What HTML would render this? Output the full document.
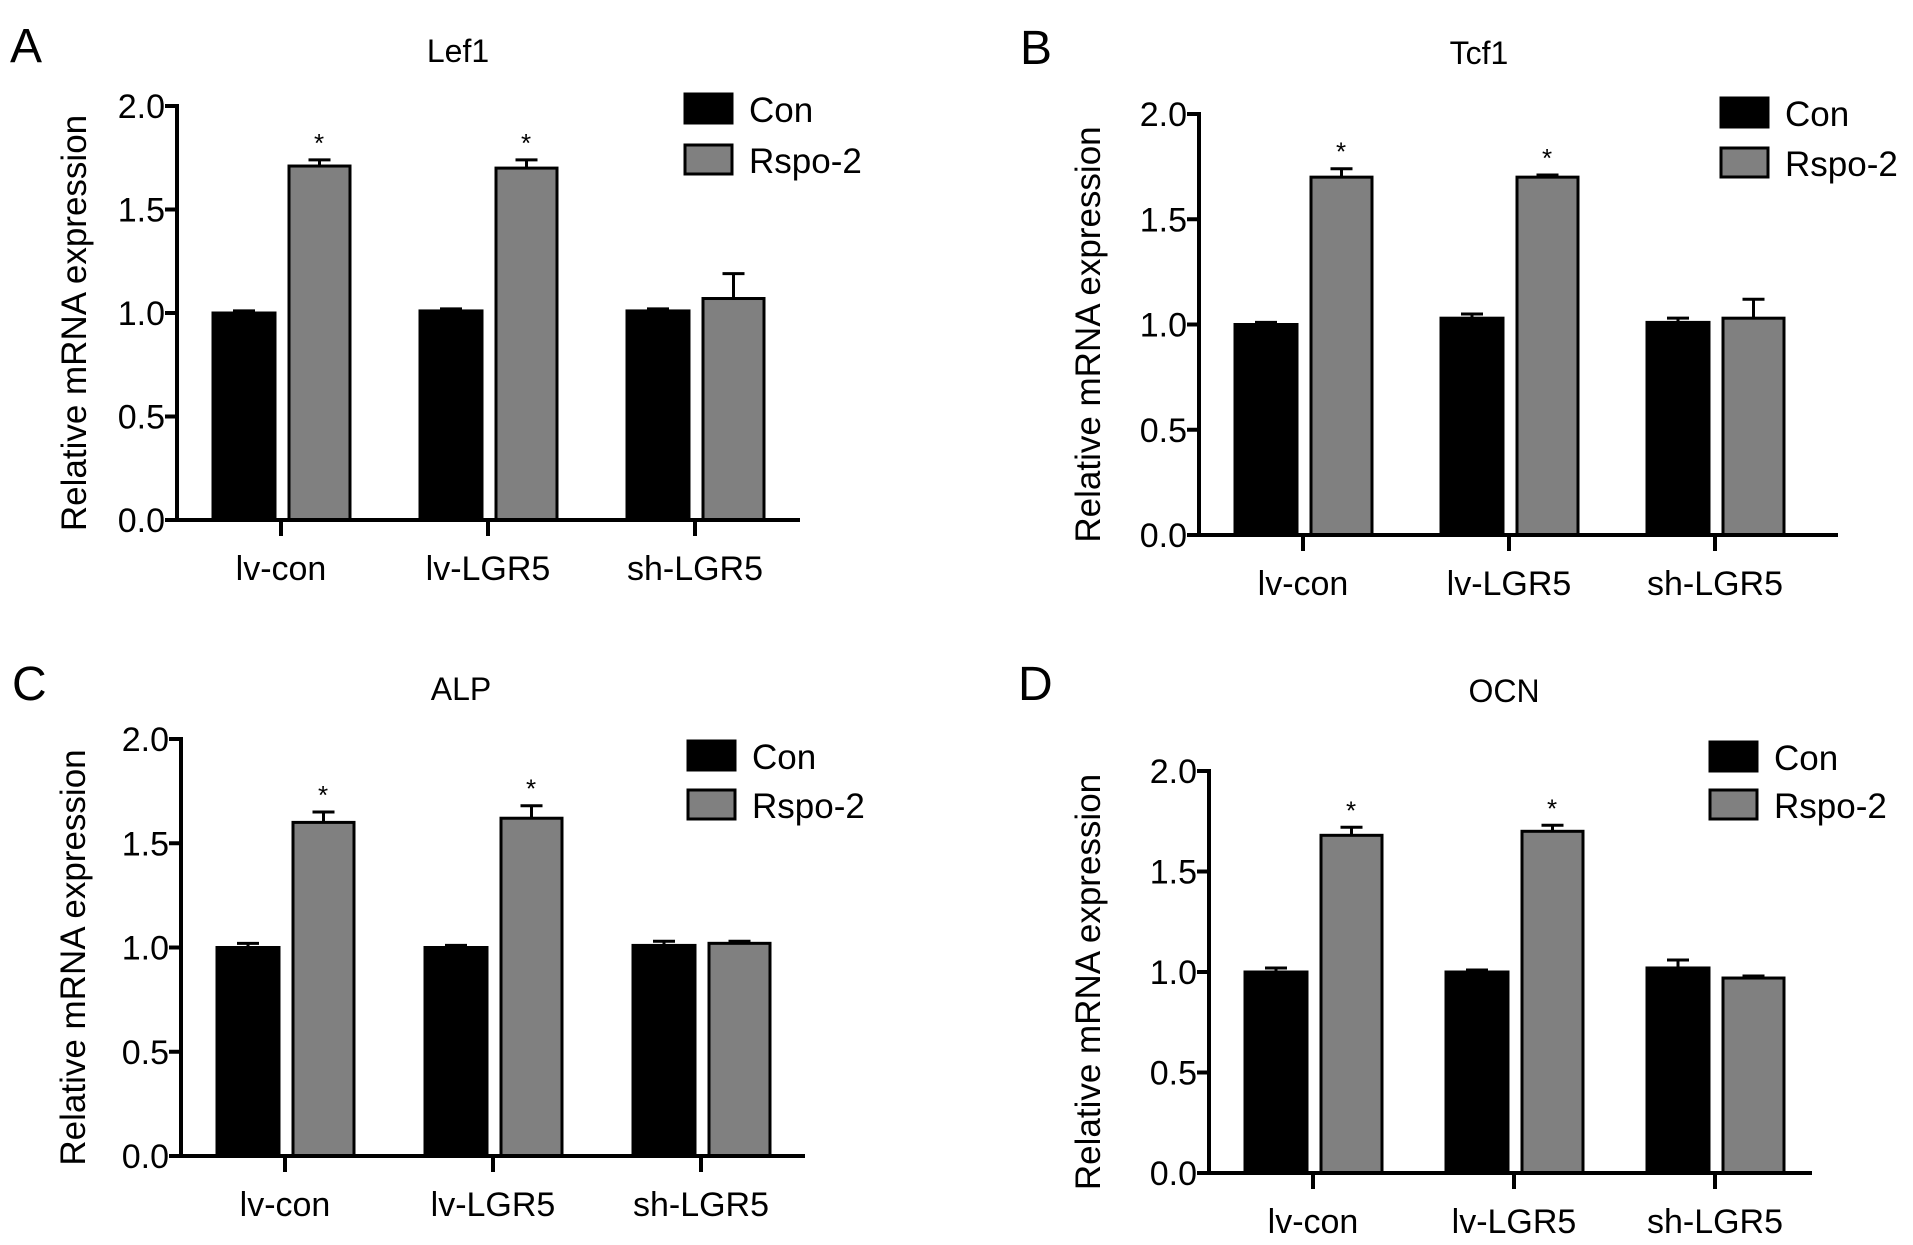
<!DOCTYPE html>
<html><head><meta charset="utf-8"><style>
html,body{margin:0;padding:0;background:#fff;}
svg{display:block;font-family:"Liberation Sans",Arial,sans-serif;}
</style></head><body>
<svg id="fig" width="1913" height="1245" viewBox="0 0 1913 1245" xmlns="http://www.w3.org/2000/svg"></svg>
<script>
const categories = ["lv-con","lv-LGR5","sh-LGR5"];
const yTicks = [0,0.5,1.0,1.5,2.0];
const yTickLabels = ["0.0","0.5","1.0","1.5","2.0"];
const seriesNames = ["Con","Rspo-2"];
const titles = ["Lef1","Tcf1","ALP","OCN"];
const letters = ["A","B","C","D"];
const conA = [1.00,1.01,1.01], conErrA = [0.01,0.01,0.01];
const rspoA = [1.71,1.70,1.07], rspoErrA = [0.03,0.04,0.12];
const conB = [1.00,1.03,1.01], conErrB = [0.01,0.02,0.02];
const rspoB = [1.70,1.70,1.03], rspoErrB = [0.04,0.01,0.09];
const conC = [1.00,1.00,1.01], conErrC = [0.02,0.01,0.02];
const rspoC = [1.60,1.62,1.02], rspoErrC = [0.05,0.06,0.01];
const conD = [1.00,1.00,1.02], conErrD = [0.02,0.01,0.04];
const rspoD = [1.68,1.70,0.97], rspoErrD = [0.04,0.03,0.01];
const starsA = [true,true,false], starsB = [true,true,false], starsC = [true,true,false], starsD = [true,true,false];

const layouts = [
 {ax:177,yTop:106,y0:520,xEnd:800,sp:207,tx:458,ty:50,lx:10,ly:62,legX:685,legY:[94,145],ylx:74},
 {ax:1199,yTop:114,y0:535,xEnd:1838,sp:206,tx:1479,ty:52,lx:1020,ly:64,legX:1721,legY:[98,148],ylx:1088},
 {ax:181,yTop:739,y0:1156,xEnd:805,sp:208,tx:461,ty:688,lx:12,ly:700,legX:688,legY:[741,790],ylx:73},
 {ax:1209,yTop:771,y0:1173,xEnd:1812,sp:201,tx:1504,ty:690,lx:1018,ly:700,legX:1710,legY:[742,790],ylx:1088}
];
const data = [[conA,conErrA,rspoA,rspoErrA,starsA],[conB,conErrB,rspoB,rspoErrB,starsB],[conC,conErrC,rspoC,rspoErrC,starsC],[conD,conErrD,rspoD,rspoErrD,starsD]];
const svg = document.getElementById('fig');
const NS = "http://www.w3.org/2000/svg";
function mk(tag, attrs, parent){const e=document.createElementNS(NS,tag);for(const k in attrs)e.setAttribute(k,attrs[k]);(parent||svg).appendChild(e);return e;}

layouts.forEach((L,pi)=>{
  const g = mk('g',{});
  
  
  const yS = v => L.y0 - (v/2.0)*(L.y0-L.yTop);
  const xC = i => L.ax + 104 + i*L.sp;
  const [con,conE,rs,rsE,st] = data[pi];
  let t = mk('text',{x:L.lx,y:L.ly,'font-size':48,fill:'#000'},g); t.textContent=letters[pi];
   
  t = mk('text',{x:L.tx,y:L.ty+12,'font-size':32,'text-anchor':'middle',fill:'#000'},g); t.textContent=titles[pi];
   
  con.forEach((v,i)=>{
    const c=xC(i);
    const draw=(x1,x2,val,err,fill,name)=>{
      const y=yS(val), ye=yS(val+err);
      const ln=mk('line',{x1:(x1+x2)/2,x2:(x1+x2)/2,y1:y,y2:ye,stroke:'#000','stroke-width':3},g);
       
      const cap=mk('line',{x1:(x1+x2)/2-11,x2:(x1+x2)/2+11,y1:ye,y2:ye,stroke:'#000','stroke-width':3},g);
       
      const r=mk('rect',{x:x1,y:y,width:x2-x1,height:L.y0-y,fill:fill,stroke:'#000','stroke-width':3},g);
       
    };
    draw(c-68,c-6,v,conE[i],'#000','bar-con-'+categories[i]);
    draw(c+8,c+69,rs[i],rsE[i],'#808080','bar-rspo2-'+categories[i]);
    if(st[i]){const s=mk('text',{x:c+38,y:yS(rs[i]+rsE[i])-8,'font-size':26,'text-anchor':'middle'},g);s.textContent='*';
       }
    const tk=mk('line',{x1:c,x2:c,y1:L.y0,y2:L.y0+16,stroke:'#000','stroke-width':4},g);
     
    const xl=mk('text',{x:c,y:L.y0+60,'font-size':34,'text-anchor':'middle'},g); xl.textContent=categories[i];
     
  });
  let a=mk('line',{x1:L.ax,x2:L.ax,y1:L.yTop-2,y2:L.y0+2,stroke:'#000','stroke-width':4},g);
   
  a=mk('line',{x1:L.ax-12,x2:L.xEnd,y1:L.y0,y2:L.y0,stroke:'#000','stroke-width':4},g);
   
  yTicks.forEach((v,k)=>{
    const y=yS(v);
    const tk=mk('line',{x1:L.ax-12,x2:L.ax,y1:y,y2:y,stroke:'#000','stroke-width':4},g);
     
    const tl=mk('text',{x:L.ax-12,y:y+12,'font-size':34,'text-anchor':'end'},g); tl.textContent=yTickLabels[k];
     
  });
  const ymid=(L.yTop+L.y0)/2+10;
  const yl=mk('text',{x:0,y:0,'font-size':35,'text-anchor':'middle',transform:`translate(${L.ylx+12},${ymid}) rotate(-90)`},g);
  yl.textContent='Relative mRNA expression';
   
  ['#000','#808080'].forEach((f,k)=>{
    const r=mk('rect',{x:L.legX,y:L.legY[k],width:47,height:29,fill:f,stroke:'#000','stroke-width':3},g);
    
    
    const lt=mk('text',{x:L.legX+64,y:L.legY[k]+28,'font-size':35},g); lt.textContent=seriesNames[k];
     
  });
});
</script>
</body></html>
